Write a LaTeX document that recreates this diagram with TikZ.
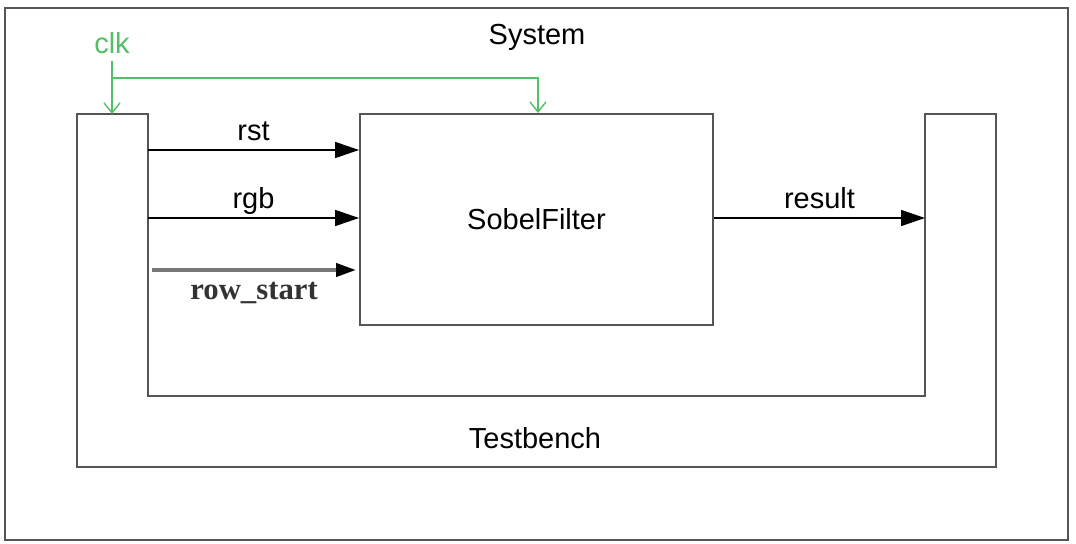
\documentclass[tikz,border=0pt]{standalone}
\usepackage{fontspec}
\setmainfont{Liberation Sans}
\newfontfamily\rowfont{Liberation Serif}
\usetikzlibrary{arrows.meta}
\definecolor{clkgreen}{RGB}{85,190,105}
\definecolor{boxgray}{RGB}{85,85,85}
\definecolor{rowgray}{RGB}{120,120,120}
\tikzset{
  box/.style={draw=boxgray, line width=1.1pt},
  sig/.style={draw=black, line width=0.9pt, -{Triangle[length=0.48cm,width=0.32cm]}},
  clksig/.style={draw=clkgreen, line width=0.8pt, -{Straight Barb[length=0.2cm,width=0.32cm]}},
  lbl/.style={font=\fontsize{16.5}{20}\selectfont, inner sep=0pt},
  siglbl/.style={lbl, midway, anchor=base, yshift=0.19cm}
}

\begin{document}
\begin{tikzpicture}[x=0.02cm, y=-0.02cm]
\useasboundingbox (0,0) rectangle (1076,544);
\draw[box] (5,8) rectangle (1068,540);
\node[lbl] (system) at (537,37) {System};
% testbench
\draw[box] (77,114)--(148,114)--(148,396)--(925,396)--(925,114)--(996,114)--(996,467)--(77,467)--cycle;
\node[lbl] (tb) at (535,438) {Testbench};
% dut
\node[box, minimum width=7.06cm, minimum height=4.22cm, lbl] (sobel) at (536.5,219.5) {SobelFilter};
\coordinate (rstA) at (148,150);
\coordinate (rgbA) at (148,218);
\coordinate (rowA) at (152,270);
\coordinate (resB) at (925,218);
\draw[sig] (rstA) -- (rstA -| sobel.west) node[siglbl] (rstL) {rst};
\draw[sig] (rgbA) -- (rgbA -| sobel.west) node[siglbl] (rgbL) {rgb};
\draw[draw=rowgray, line width=2.2pt, -{Triangle[length=0.4cm,width=0.26cm,color=black]}] (rowA) -- ([xshift=-0.06cm]rowA -| sobel.west)
  node[midway, below=6pt, inner sep=0pt, text=black!80, font=\rowfont\bfseries\fontsize{17.5}{20}\selectfont] (rowL) {row\_start};
\draw[sig] (resB -| sobel.east) -- (resB) node[siglbl] (resL) {result};
% clock
\node[lbl, text=clkgreen] (clk) at (112,43) {clk};
\coordinate (clkA) at (112,61);
\coordinate (clkJ) at (112,78);
\coordinate (clkB) at (112,114);
\coordinate (clkK) at (538,78);
\draw[clksig] (clkA) -- (clkB);
\draw[clksig] (clkJ) -- (clkK) -- (clkK |- sobel.north);
\end{tikzpicture}
\end{document}
